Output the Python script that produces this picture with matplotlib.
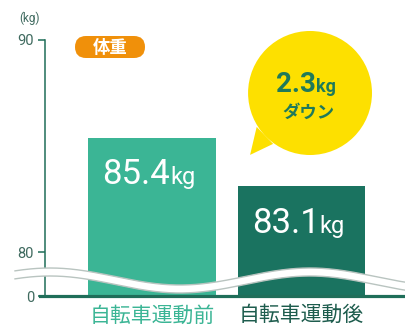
import numpy as np
import matplotlib
matplotlib.use("Agg")
import matplotlib.pyplot as plt
from matplotlib.patches import Ellipse, Polygon, FancyBboxPatch
from matplotlib.transforms import IdentityTransform

plt.rcParams["font.family"] = ["Roboto", "Noto Sans CJK JP", "DejaVu Sans"]

# data
categories = ["自転車運動前", "自転車運動後"]
weights = [85.4, 83.1]
diff_label = "2.3"
tick_vals = [80, 90]
bar_colors = ["#3bb595", "#1a7360"]
label_colors = ["#3bb595", "#1d5c4d"]

AXIS_C = "#1f6e59"
TEXT_C = "#3f6a5f"
ZERO_POS = 80 - 44 / 21.2   # broken axis: where "0" sits

W, H = 406, 326
fig = plt.figure(figsize=(W / 100, H / 100), dpi=100)
ax = fig.add_axes([45 / W, (H - 296) / H, (W - 45) / W, (296 - 40) / H])

x = np.arange(len(weights))
ax.bar(x, np.array(weights) - ZERO_POS, bottom=ZERO_POS, width=0.856,
       color=bar_colors, zorder=2)
ax.set_xlim(-0.716, 1.699)
ax.set_ylim(ZERO_POS, 90)

ax.set_yticks([ZERO_POS] + tick_vals)
ax.set_yticklabels(["0"] + [str(t) for t in tick_vals])
ax.set_xticks(x)
ax.set_xticklabels(categories, fontsize=15)
for lbl, c in zip(ax.get_xticklabels(), label_colors):
    lbl.set_color(c)
ax.tick_params(axis="x", length=0, pad=7)
ax.tick_params(axis="y", length=5, width=1.1, color=AXIS_C, labelcolor=TEXT_C,
               labelsize=10.5, pad=3)
for s in ["top", "right"]:
    ax.spines[s].set_visible(False)
ax.spines["left"].set_color(AXIS_C)
ax.spines["left"].set_linewidth(1.1)
ax.spines["bottom"].set_color(AXIS_C)
ax.spines["bottom"].set_linewidth(2.3)
ax.spines["bottom"].set_bounds(-0.75, 1.699)
ax.spines["bottom"].set_zorder(5)

# unit label
fig.text(30 / W, 1 - 18 / H, "(kg)", fontsize=8.5, color=TEXT_C,
         ha="center", va="center")

# value labels inside bars
for i, v in enumerate(weights):
    ax.text(i + 0.12, v - 2.2, f"{v:.1f}", color="white", fontsize=25,
            ha="right", va="baseline", zorder=4)
    ax.text(i + 0.12, v - 2.2, "kg", color="white", fontsize=17,
            ha="left", va="baseline", zorder=4)

# badge (pill drawn in pixel space)
fig.patches.append(FancyBboxPatch((75, H - 58), 70, 22,
                                  boxstyle="round,pad=0,rounding_size=11",
                                  fc="#f0900a", ec="none",
                                  transform=IdentityTransform(), zorder=3))
fig.text(110 / W, 1 - 47 / H, "体重", color="white", fontsize=12.5,
         fontweight="bold", ha="center", va="center", zorder=4)

# speech bubble
ax.add_patch(Ellipse((1.057, 87.5), 0.829, 5.85, fc="#fde000", ec="none",
                     zorder=3, clip_on=False))
ax.add_patch(Polygon([(0.70, 85.9), (0.656, 84.58), (0.81, 85.1)],
                     closed=True, fc="#fde000", ec="none", zorder=3, clip_on=False))
ax.text(1.095, 87.55, diff_label, color="#1f7a5a", fontsize=20, fontweight="bold",
        ha="right", va="baseline", zorder=4)
ax.text(1.095, 87.55, "kg", color="#1f7a5a", fontsize=13, fontweight="bold",
        ha="left", va="baseline", zorder=4)
ax.text(1.045, 86.6, "ダウン", color="#1f7a5a", fontsize=12.5, fontweight="bold",
        ha="center", va="center", zorder=4)

# wavy break band
px = np.linspace(15, W, 300)
top = 276.5 + 8.5 * np.cos(2 * np.pi * (px - 180) / 260)
bot = top + 8
fig.patches.append(plt.Polygon(
    np.column_stack([np.r_[px, px[::-1]] / W, 1 - np.r_[top, bot[::-1]] / H]),
    closed=True, fc="white", ec="none", transform=fig.transFigure, zorder=6))
for yy in (top, bot):
    fig.lines.append(plt.Line2D(px / W, 1 - yy / H, color="#b9c4c0", lw=1.0,
                                transform=fig.transFigure, zorder=7))

fig.savefig("out.png", dpi=100)
